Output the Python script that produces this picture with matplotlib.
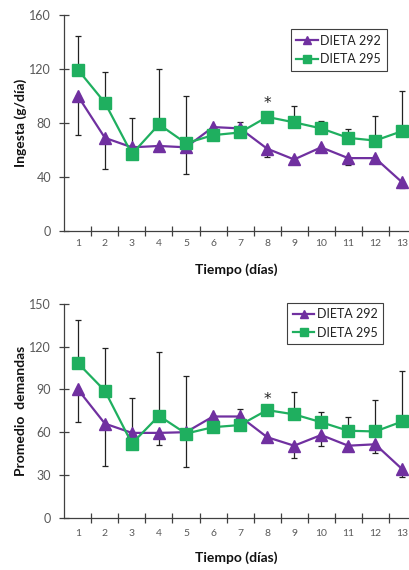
import matplotlib
matplotlib.use("Agg")
import matplotlib.pyplot as plt
import numpy as np

plt.rcParams['font.family'] = ['Lato', 'DejaVu Sans']

# Datos
dias = np.arange(1, 14)

ingesta_292 = [100, 69, 62, 63, 62, 77, 76, 61, 53, 62, 54, 54, 36]
ingesta_292_err = [29, 23, 0, 0, 19.5, 0, 0, 6, 0, 0, 5, 0, 4]
ingesta_295 = [119.5, 95, 57, 79, 65, 71, 73, 84.5, 80.5, 76, 69, 67, 74]
ingesta_295_err = [25, 23, 27, 41, 35, 0, 8, 0, 12, 5.5, 6.5, 18, 30]

demandas_292 = [90, 66, 59.5, 59.5, 60, 71, 71, 56.5, 50.5, 58, 50.5, 51.5, 34]
demandas_292_err = [23, 29.5, 0, 8.5, 24.5, 0, 0, 0, 8.3, 7.5, 0, 6, 5.2]
demandas_295 = [108.5, 89, 52, 71.5, 59, 63.5, 65, 75.5, 72.5, 67, 61, 60.5, 67.5]
demandas_295_err = [30.5, 30, 32, 45, 40.5, 0, 11.5, 0, 15.4, 7.3, 9.3, 22.3, 35.2]

PURPLE = "#7030A0"
GREEN = "#1FAF5F"
GREY = "#595959"


def panel(ax, y292, e292, y295, e295, ymax, ystep, ylabel, star_y,
          legend_anchor, xlabel_y, xpad):
    zeros = np.zeros(len(dias))
    # error bars: purple downwards, green upwards
    ax.errorbar(dias, y292, yerr=[e292, zeros], fmt="none", ecolor="#222222",
                elinewidth=0.9, capsize=2.5, capthick=0.9, zorder=2)
    ax.errorbar(dias, y295, yerr=[zeros, e295], fmt="none", ecolor="#222222",
                elinewidth=0.9, capsize=2.5, capthick=0.9, zorder=2)
    ax.plot(dias, y292, color=PURPLE, lw=1.6, marker="^", ms=9,
            label="DIETA 292", zorder=3)
    ax.plot(dias, y295, color=GREEN, lw=1.6, marker="s", ms=8.5,
            label="DIETA 295", zorder=4)
    ax.text(8, star_y, "*", ha="center", va="baseline", fontsize=11,
            color="#222222", family="DejaVu Sans")

    ax.set_xlim(0.5, 13.5)
    ax.set_ylim(0, ymax)
    ax.set_yticks(np.arange(0, ymax + 1, ystep))
    ax.set_xticks(dias)
    ax.set_xticks(np.arange(1.5, 13.5, 1), minor=True)
    ax.tick_params(axis="x", which="major", length=0, labelsize=7.5,
                   labelcolor=GREY, pad=xpad)
    ax.tick_params(axis="x", which="minor", direction="inout", length=7,
                   width=0.9, color="#404040")
    ax.tick_params(axis="y", direction="inout", length=7, width=0.9,
                   color="#404040", labelsize=9, labelcolor=GREY, pad=6)
    for s in ["top", "right"]:
        ax.spines[s].set_visible(False)
    for s in ["left", "bottom"]:
        ax.spines[s].set_color("#404040")
        ax.spines[s].set_linewidth(0.9)

    ax.set_ylabel(ylabel, fontsize=10, fontweight="bold", color="#111111")
    ax.yaxis.set_label_coords(-0.105, 0.5)
    ax.set_xlabel("Tiempo (días)", fontsize=10, fontweight="bold",
                  color="#111111")
    ax.xaxis.set_label_coords(0.49, xlabel_y)

    leg = ax.legend(loc="upper right", bbox_to_anchor=legend_anchor,
                    borderaxespad=0, fontsize=9, handlelength=1.7,
                    handletextpad=0.2, markerscale=0.7, fancybox=False,
                    framealpha=1, borderpad=0.45, labelspacing=0.5)
    leg.get_frame().set_edgecolor("#404040")
    leg.get_frame().set_linewidth(0.8)
    for t in leg.get_texts():
        t.set_color("#222222")


fig = plt.figure(figsize=(4.1, 5.7), dpi=100)
ax1 = fig.add_axes([0.157, 0.5947, 0.857, 0.379])
ax2 = fig.add_axes([0.157, 0.0918, 0.857, 0.375])

panel(ax1, ingesta_292, ingesta_292_err, ingesta_295, ingesta_295_err,
      160, 40, "Ingesta (g/día)", 91.3, (0.917, 0.934), -0.148, 6)
panel(ax2, demandas_292, demandas_292_err, demandas_295, demandas_295_err,
      150, 30, "Promedio  demandas", 79.5, (0.907, 1.006), -0.158, 8)

fig.savefig("out.png", dpi=100)
